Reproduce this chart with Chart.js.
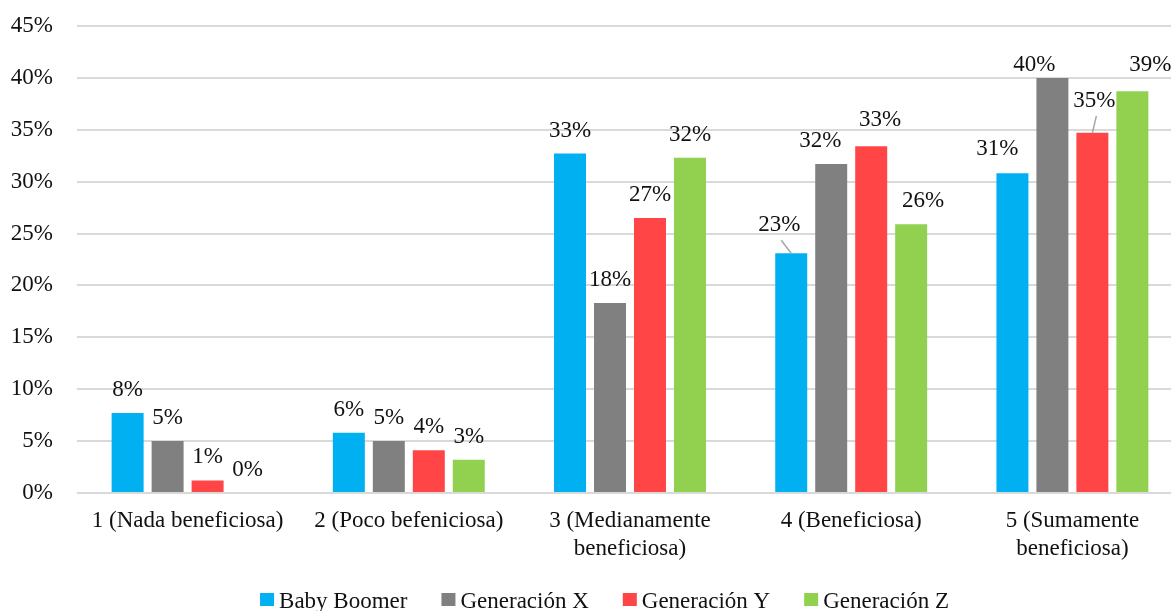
<!DOCTYPE html>
<html>
<head>
<meta charset="utf-8">
<script src="https://cdn.jsdelivr.net/npm/chart.js@4"></script>
<style>
  html, body { margin: 0; padding: 0; background: #fff; }
  #wrap { width: 1171px; height: 611px; }
</style>
</head>
<body>
<div id="wrap"><canvas id="bar-chart-canvas" width="1171" height="611"></canvas></div>
<script>
const categories = [
    '1 (Nada beneficiosa)',
    '2 (Poco befeniciosa)',
    ['3 (Medianamente', 'beneficiosa)'],
    '4 (Beneficiosa)',
    ['5 (Sumamente', 'beneficiosa)']
];
const seriesNames = ['Baby Boomer', 'Generación X', 'Generación Y', 'Generación Z'];
const babyBoomer  = [7.7, 5.8, 32.7, 23.1, 30.8];
const generacionX = [5.0, 5.0, 18.3, 31.7, 40.0];
const generacionY = [1.2, 4.1, 26.5, 33.4, 34.7];
const generacionZ = [0.0, 3.2, 32.3, 25.9, 38.7];
const colors = ['#00b0f0', '#808080', '#ff4545', '#92d050'];

const FONT = 'Liberation Serif, Times New Roman, serif';
const TEXT = '#111';

// labels moved by hand in the original, [dx, dy, leaderLine]
const labelNudges = {
    '0-3': [-12, -5, true],
    '1-3': [-11, 0],
    '2-3': [9, -3],
    '3-3': [12, 0],
    '0-4': [-15, -1],
    '1-4': [-18, 10],
    '2-4': [2, -9, true],
    '3-4': [18, -3]
};

const valueLabels = {
    id: 'valueLabels',
    afterDatasetsDraw(chart) {
        const ctx = chart.ctx;
        ctx.save();
        ctx.font = '23px ' + FONT;
        ctx.textAlign = 'center';
        ctx.textBaseline = 'middle';
        chart.data.datasets.forEach((ds, i) => {
            chart.getDatasetMeta(i).data.forEach((bar, j) => {
                const nudge = labelNudges[i + '-' + j] || [0, 0];
                const lx = bar.x + nudge[0];
                const ly = bar.y - 23 + nudge[1];
                if (nudge[2]) {
                    ctx.strokeStyle = '#a6a6a6';
                    ctx.lineWidth = 1.5;
                    ctx.beginPath();
                    ctx.moveTo(lx + 2, ly + 15);
                    ctx.lineTo(bar.x, bar.y);
                    ctx.stroke();
                }
                ctx.fillStyle = TEXT;
                ctx.fillText(Math.round(ds.data[j]) + '%', lx, ly);
            });
        });
        ctx.restore();
    }
};

// Excel-like legend: small square, text right next to it
const bottomLegend = {
    id: 'bottomLegend',
    afterDraw(chart) {
        const ctx = chart.ctx;
        const box = 14, gapText = 5, gapItem = 34;
        ctx.save();
        ctx.font = '23px ' + FONT;
        ctx.textBaseline = 'alphabetic';
        const items = chart.data.datasets.map(ds => ({
            text: ds.label, color: ds.backgroundColor, w: ctx.measureText(ds.label).width
        }));
        const total = items.reduce((s, it) => s + box + gapText + it.w, 0) + gapItem * (items.length - 1);
        let x = chart.width / 2 + 19 - total / 2;
        const baseline = chart.height - 3;
        items.forEach(it => {
            ctx.fillStyle = it.color;
            ctx.fillRect(x, baseline - 15, box, 13);
            x += box + gapText;
            ctx.fillStyle = TEXT;
            ctx.fillText(it.text, x, baseline);
            x += it.w + gapItem;
        });
        ctx.restore();
    }
};

// the original plot area runs a little past the right edge of the picture
const widenCategoryAxis = {
    id: 'widenCategoryAxis',
    afterLayout(chart) {
        const x = chart.scales.x;
        x.right += 12;
        x.width += 12;
        x._labelItems = null;
        x.configure();
    }
};

const seriesData = [babyBoomer, generacionX, generacionY, generacionZ];

const barChartContext = document.getElementById('bar-chart-canvas').getContext('2d');

const barChart = new Chart(barChartContext, {
    type: 'bar',
    data: {
        labels: categories,
        datasets: seriesNames.map((name, i) => ({
            label: name,
            data: seriesData[i],
            backgroundColor: colors[i]
        }))
    },
    options: {
        responsive: false,
        animation: false,
        layout: {
            padding: { left: 0, right: 0, top: 26, bottom: 34 }
        },
        datasets: {
            bar: {
                categoryPercentage: 0.723,
                barPercentage: 0.8
            }
        },
        scales: {
            x: {
                grid: { display: false, drawTicks: false, tickLength: 0 },
                border: { display: false },
                ticks: {
                    color: TEXT,
                    padding: 14,
                    maxRotation: 0,
                    autoSkip: false,
                    font: { family: FONT, size: 23, lineHeight: 1.22 }
                },
                afterFit(scale) {
                    scale.paddingLeft = 0;
                    scale.paddingRight = 0;
                }
            },
            y: {
                min: 0,
                max: 45,
                grid: { color: '#d9d9d9', lineWidth: 2, drawTicks: false },
                border: { display: false },
                ticks: {
                    stepSize: 5,
                    padding: 24,
                    color: TEXT,
                    font: { family: FONT, size: 23 },
                    callback: v => v + '%'
                },
                afterFit(scale) {
                    scale.width = 77;
                    scale.paddingTop = 0;
                    scale.paddingBottom = 0;
                }
            }
        },
        plugins: {
            tooltip: { enabled: false },
            legend: { display: false }
        }
    },
    plugins: [widenCategoryAxis, valueLabels, bottomLegend]
});
</script>
</body>
</html>
